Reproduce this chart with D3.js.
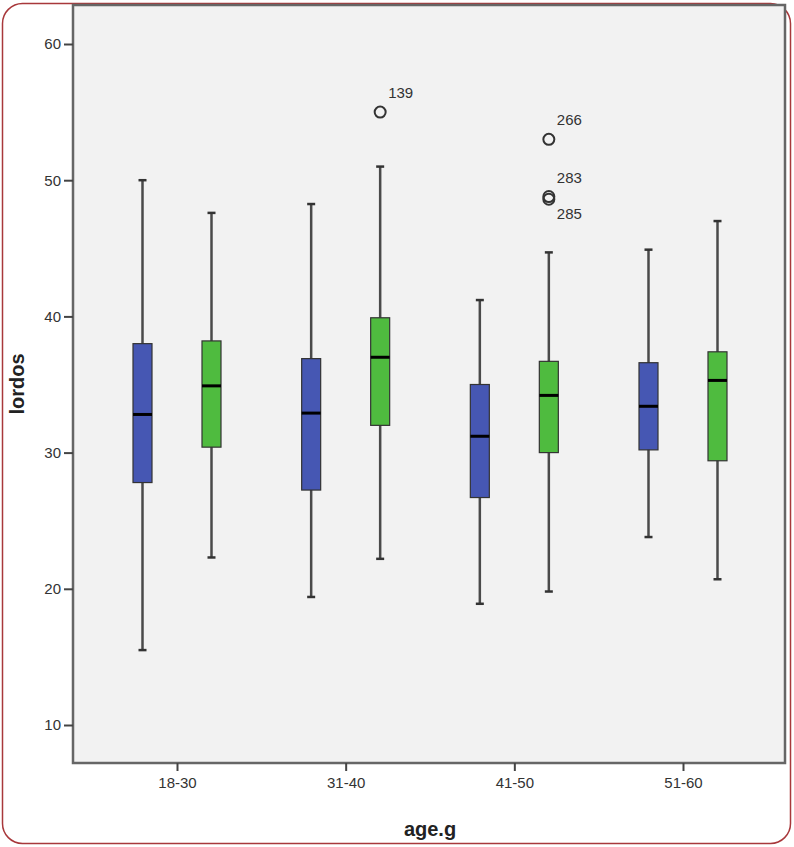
<!DOCTYPE html>
<html>
<head>
<meta charset="utf-8">
<script src="https://cdn.jsdelivr.net/npm/d3@7"></script>
<style>
  body { margin: 0; background: #fff; }
  svg { display: block; font-family: Arial, "Liberation Sans", sans-serif; }
</style>
</head>
<body>
<div id="chart"></div>
<script>
// age groups and two series (blue / green) per group
const groups = ['18-30', '31-40', '41-50', '51-60'];
const series = ['blue', 'green'];
// [low whisker, Q1, median, Q3, high whisker]
const blueStats = [
  [15.5, 27.8, 32.8, 38.0, 50.0],
  [19.4, 27.25, 32.9, 36.9, 48.25],
  [18.9, 26.7, 31.2, 35.0, 41.2],
  [23.8, 30.2, 33.4, 36.6, 44.9]
];
const greenStats = [
  [22.3, 30.4, 34.9, 38.2, 47.6],
  [22.2, 32.0, 37.0, 39.9, 51.0],
  [19.8, 30.0, 34.2, 36.7, 44.7],
  [20.7, 29.4, 35.3, 37.4, 47.0]
];
// outliers: group, series, value, case label
const outGroup = ['31-40', '41-50', '41-50', '41-50'];
const outSeries = ['green', 'green', 'green', 'green'];
const outValue = [55.0, 53.0, 48.8, 48.6];
const outLabel = ['139', '266', '283', '285'];
const yTicks = [10, 20, 30, 40, 50, 60];

const width = 794, height = 847;
const plot = { left: 73, right: 785, top: 5, bottom: 763 };

const svg = d3.select('#chart').append('svg')
  .attr('width', width).attr('height', height);

// 外框
svg.append('rect')
  .attr('x', 2.5).attr('y', 3.5).attr('width', 788).attr('height', 840)
  .attr('rx', 20).attr('fill', '#fff').attr('stroke', '#a8383b').attr('stroke-width', 1.5);

// plot background
svg.append('rect')
  .attr('x', plot.left).attr('y', plot.top)
  .attr('width', plot.right - plot.left).attr('height', plot.bottom - plot.top)
  .attr('fill', '#f2f2f2').attr('stroke', '#666').attr('stroke-width', 2.5);

const y = d3.scaleLinear().domain([10, 60]).range([725, 44]);
const x = d3.scalePoint().domain(groups).range([177, 683]);
const xSub = d3.scalePoint().domain(series).range([-34.5, 34.5]);
const colors = { blue: '#4657b3', green: '#4fbb3f' };
const boxW = 19;

// axes
const yAxis = svg.append('g').attr('transform', `translate(${plot.left},0)`)
  .call(d3.axisLeft(y).tickValues(yTicks).tickSize(9).tickPadding(3).tickFormat(d3.format('d')));
yAxis.select('.domain').remove();
yAxis.selectAll('line').attr('stroke', '#444').attr('stroke-width', 2);
yAxis.selectAll('text').attr('fill', '#333').style('font-size', '15px');

const xAxis = svg.append('g').attr('transform', `translate(0,${plot.bottom})`)
  .call(d3.axisBottom(x).tickSize(8).tickPadding(6));
xAxis.select('.domain').remove();
xAxis.selectAll('line').attr('stroke', '#444').attr('stroke-width', 2);
xAxis.selectAll('text').attr('fill', '#333').style('font-size', '15px');

// 绘制箱线图
function drawBoxes(stats, key) {
  stats.forEach((s, i) => {
    const cx = x(groups[i]) + xSub(key);
    const g = svg.append('g');
    g.append('line')
      .attr('x1', cx).attr('x2', cx).attr('y1', y(s[0])).attr('y2', y(s[4]))
      .attr('stroke', '#4a4a4a').attr('stroke-width', 2.5);
    [s[0], s[4]].forEach(v => {
      g.append('line')
        .attr('x1', cx - 4).attr('x2', cx + 4).attr('y1', y(v)).attr('y2', y(v))
        .attr('stroke', '#333').attr('stroke-width', 2.5);
    });
    g.append('rect')
      .attr('x', cx - boxW / 2).attr('y', y(s[3]))
      .attr('width', boxW).attr('height', y(s[1]) - y(s[3]))
      .attr('fill', colors[key]).attr('stroke', '#333').attr('stroke-width', 1.2);
    g.append('line')
      .attr('x1', cx - boxW / 2).attr('x2', cx + boxW / 2).attr('y1', y(s[2])).attr('y2', y(s[2]))
      .attr('stroke', '#000').attr('stroke-width', 3);
  });
}
drawBoxes(blueStats, 'blue');
drawBoxes(greenStats, 'green');

// outliers
outValue.forEach((v, i) => {
  const cx = x(outGroup[i]) + xSub(outSeries[i]);
  svg.append('circle')
    .attr('cx', cx).attr('cy', y(v)).attr('r', 5.5)
    .attr('fill', 'none').attr('stroke', '#333').attr('stroke-width', 2);
});
const labelDy = [-14, -14, -14, 20];
outValue.forEach((v, i) => {
  const cx = x(outGroup[i]) + xSub(outSeries[i]);
  svg.append('text')
    .attr('x', cx + 8).attr('y', y(v) + labelDy[i])
    .attr('fill', '#333').style('font-size', '15px')
    .text(outLabel[i]);
});

// axis titles
svg.append('text')
  .attr('transform', 'translate(24,384) rotate(-90)')
  .attr('text-anchor', 'middle')
  .style('font-size', '20px').style('font-weight', 'bold').attr('fill', '#222')
  .text('lordos');
svg.append('text')
  .attr('x', 430).attr('y', 836).attr('text-anchor', 'middle')
  .style('font-size', '20px').style('font-weight', 'bold').attr('fill', '#222')
  .text('age.g');
</script>
</body>
</html>
